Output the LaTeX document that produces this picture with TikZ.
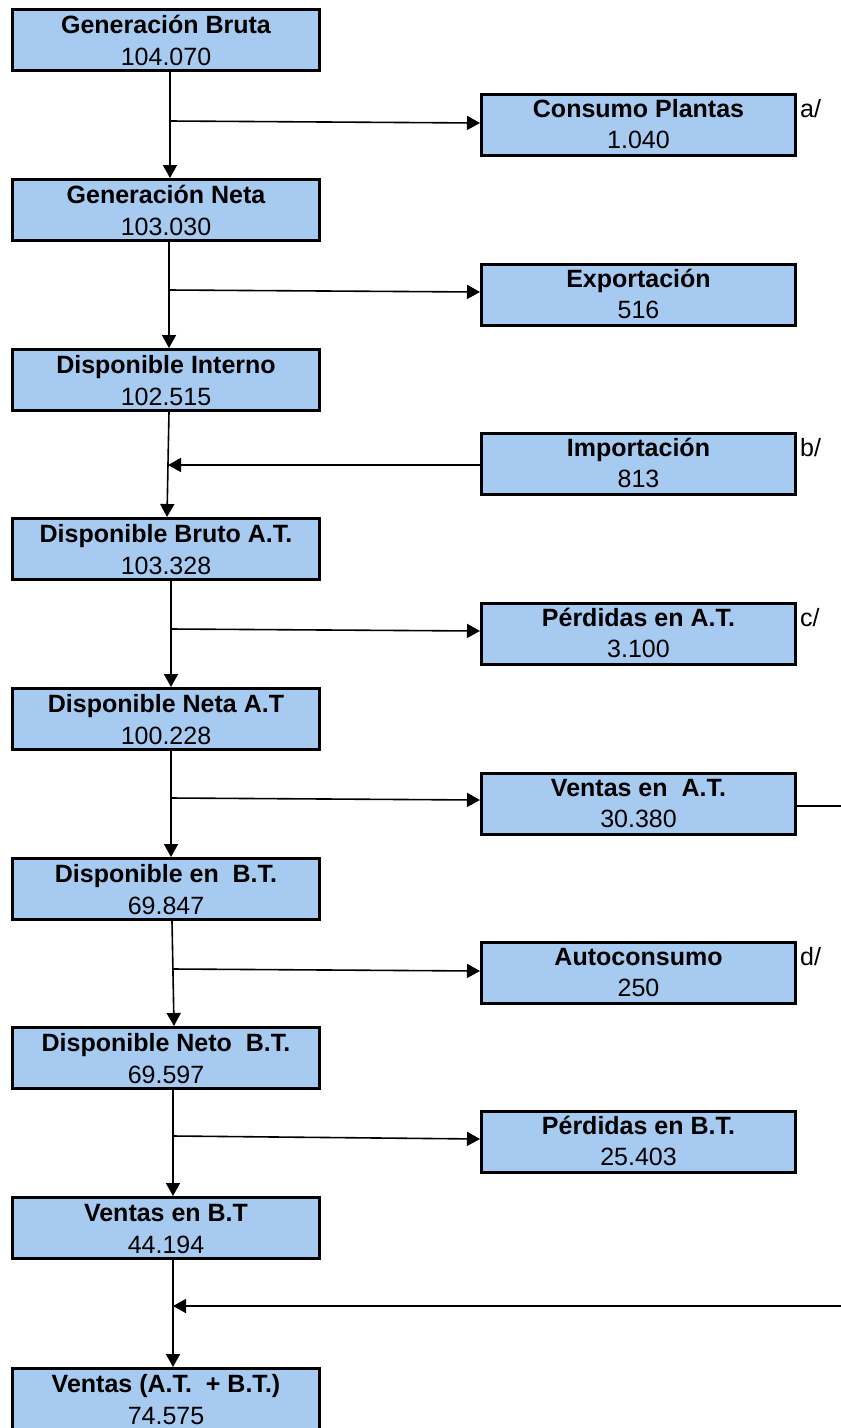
\documentclass[tikz,border=0pt]{standalone}
\usepackage{fontspec}
\setmainfont{Liberation Sans}
\usetikzlibrary{arrows.meta}
\definecolor{boxblue}{RGB}{166,202,240}
\begin{document}
\begin{tikzpicture}[x=1pt,y=-1pt,
  lbox/.style={draw=black, line width=3pt, fill=boxblue, minimum width=307pt, minimum height=61pt, inner sep=0pt},
  rbox/.style={draw=black, line width=3pt, fill=boxblue, minimum width=314pt, minimum height=61pt, inner sep=0pt},
  ttl/.style={font=\fontsize{25}{30}\selectfont\bfseries, anchor=base, inner sep=0pt},
  val/.style={font=\fontsize{25}{30}\selectfont, anchor=base, inner sep=0pt},
  note/.style={font=\fontsize{25}{30}\selectfont, anchor=base west, inner sep=0pt},
  arr/.style={line width=1.6pt, -{Triangle[length=13pt,width=14pt]}},
  ln/.style={line width=1.6pt}]
\useasboundingbox (0,0) rectangle (841,1428);
% left column
\foreach \n/\t/\ti/\v in {
  1/8/{Generación Bruta}/104.070,
  2/178/{Generación Neta}/103.030,
  3/348/{Disponible Interno}/102.515,
  4/517/{Disponible Bruto A.T.}/103.328,
  5/687/{Disponible Neta A.T}/100.228,
  6/857/{Disponible en\ \ B.T.}/69.847,
  7/1026/{Disponible Neto\ \ B.T.}/69.597,
  8/1196/{Ventas en B.T}/44.194,
  9/1367/{Ventas (A.T.\ \ + B.T.)}/74.575}{
  \node[lbox] (b\n) at (166,\t+32) {};
  \node[ttl] (bt\n) at (166,\t+25) {\ti};
  \node[val] (bv\n) at (166,\t+57) {\v};
}
% right column
\foreach \n/\t/\ti/\v in {
  1/93/{Consumo Plantas}/1.040,
  2/263/{Exportación}/516,
  3/432/{Importación}/813,
  4/602/{Pérdidas en A.T.}/3.100,
  5/772/{Ventas en\ \ A.T.}/30.380,
  6/941/{Autoconsumo}/250,
  7/1110/{Pérdidas en B.T.}/25.403}{
  \node[rbox] (r\n) at (638.5,\t+32) {};
  \node[ttl] (rt\n) at (638.5,\t+24) {\ti};
  \node[val] (rv\n) at (638.5,\t+55) {\v};
}
% notes
\node[note] (na) at (800,117) {a/};
\node[note] (nb) at (800,456) {b/};
\node[note] (nc) at (800,626) {c/};
\node[note] (nd) at (800,965) {d/};
% vertical arrows
\draw[arr] ([xshift=4pt]b1.south) -- ([xshift=4pt]b2.north);
\draw[arr] ([xshift=3pt]b2.south) -- ([xshift=3pt]b3.north);
\draw[arr] ([xshift=3pt]b3.south) -- ([xshift=1pt]b4.north);
\draw[arr] ([xshift=5pt]b4.south) -- ([xshift=5pt]b5.north);
\draw[arr] ([xshift=5pt]b5.south) -- ([xshift=5pt]b6.north);
\draw[arr] ([xshift=6pt]b6.south) -- ([xshift=8pt]b7.north);
\draw[arr] ([xshift=7pt]b7.south) -- ([xshift=7pt]b8.north);
\draw[arr] ([xshift=7pt]b8.south) -- ([xshift=7pt]b9.north);
% junctions
\coordinate (j1) at (170,121);
\coordinate (j2) at (169,290);
\coordinate (j3) at (168,465);
\coordinate (j4) at (171,629);
\coordinate (j5) at (171,798);
\coordinate (j6) at (173,969);
\coordinate (j7) at (173,1136);
\coordinate (j8) at (173,1306);
\coordinate (e1) at (841,806);
\coordinate (e2) at (841,1306);
% horizontal arrows
\draw[arr] (j1) -- ([yshift=2pt]r1.west);
\draw[arr] (j2) -- ([yshift=3pt]r2.west);
\draw[arr] ([yshift=-1pt]r3.west) -- (j3);
\draw[arr] (j4) -- ([yshift=3pt]r4.west);
\draw[arr] (j5) -- ([yshift=4pt]r5.west);
\draw[arr] (j6) -- ([yshift=2pt]r6.west);
\draw[arr] (j7) -- ([yshift=3pt]r7.west);
\draw[ln] ([yshift=-2pt]r5.east) -- (e1);
\draw[arr] (e2) -- (j8);
\end{tikzpicture}
\end{document}
